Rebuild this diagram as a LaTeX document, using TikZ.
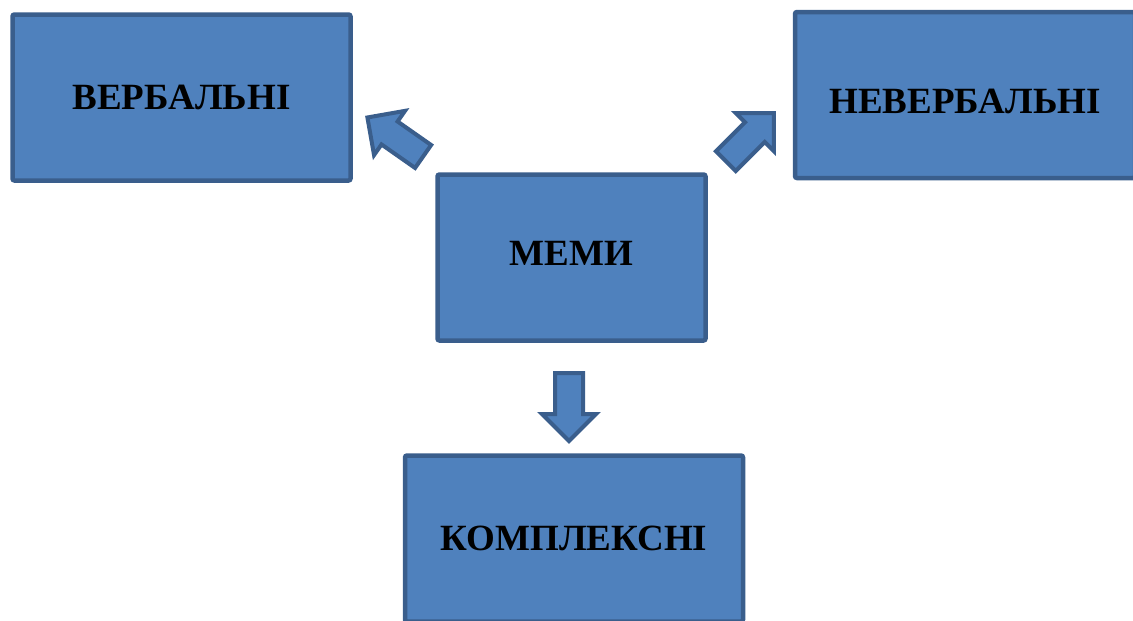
\documentclass[tikz,border=0pt]{standalone}
\usepackage{fontspec}
\setmainfont{Liberation Serif}
\usetikzlibrary{shapes.arrows}

\definecolor{memefill}{HTML}{4F81BD}
\definecolor{memeline}{HTML}{3A5E8C}

\begin{document}
\begin{tikzpicture}[
  x=1pt, y=-1pt,
  every node/.style={font=\fontsize{37}{42}\selectfont\bfseries},
  box/.style={draw=memeline, line width=4.5pt, fill=memefill, rounded corners=2pt, minimum width=338pt, minimum height=166pt, inner sep=0pt},
  blockarr/.style={single arrow, draw=memeline, line width=4pt, fill=memefill, minimum height=68pt, minimum width=1pt, inner xsep=0pt, inner ysep=12pt, single arrow head extend=13pt}
]
  \clip (0,0) rectangle (1133,621);
  \node[box] (M) at (571.5,257.5) [minimum width=268pt] {\raisebox{4pt}[\height][\depth]{МЕМИ}};
  \node[box] (V) at (181.5,97.5) {ВЕРБАЛЬНІ};
  \node[box] (N) at (965,95) [minimum width=340pt] {\raisebox{-6pt}[\height][\depth]{НЕВЕРБАЛЬНІ}};
  \node[box] (K) at (574,538.5) {КОМПЛЕКСНІ};
  % block arrows out of the centre box
  \node[blockarr, rotate=145] (toV) at (401,141) {};
  \node[blockarr, rotate=45] (toN) at (745,142) {};
  \node[blockarr, rotate=-90] (toK) at (569,400) {};
\end{tikzpicture}
\end{document}
